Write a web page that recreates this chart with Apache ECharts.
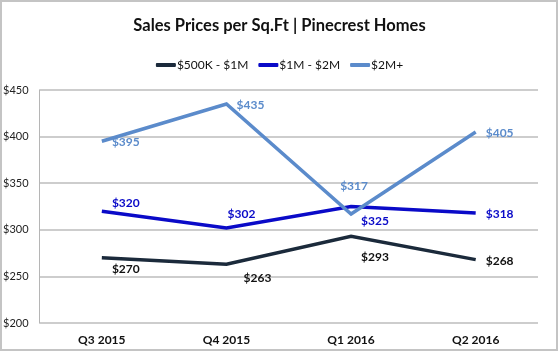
<!DOCTYPE html>
<html>
<head>
<meta charset="utf-8">
<script src="https://cdn.jsdelivr.net/npm/echarts@6/dist/echarts.min.js"></script>
<style>
html,body{margin:0;padding:0;background:#fff;}
#c{width:559px;height:352px;}
</style>
</head>
<body>
<div id="c"></div>
<script>
var categories = ['Q3 2015', 'Q4 2015', 'Q1 2016', 'Q2 2016'];
var seriesNames = ['$500K - $1M', '$1M - $2M', '$2M+'];
var low = [270, 263, 293, 268];
var mid = [320, 302, 325, 318];
var high = [395, 435, 317, 405];
var yTicks = [200, 250, 300, 350, 400, 450];

var colors = ['#1b2a3b', '#0a0ac8', '#5b8bcb'];
var labelColors = ['#111111', '#0a0ac8', '#5b8bcb'];

// per-point label placement (style only)
var labelPlacement = [
  [ {p:'right', d:10, o:[0,11]}, {p:'right', d:17, o:[0,14]}, {p:'right', d:10, o:[0,21]}, {p:'right', d:10, o:[0,2]} ],
  [ {p:'right', d:10, o:[0,-8]}, {p:'top', d:8, o:[15,0]}, {p:'right', d:10, o:[0,15]}, {p:'right', d:10, o:[0,1]} ],
  [ {p:'right', d:10, o:[0,1]}, {p:'right', d:10, o:[0,1]}, {p:'top', d:22, o:[3,0]}, {p:'right', d:10, o:[0,1]} ]
];

function build(values, idx) {
  return values.map(function (v, i) {
    var lp = labelPlacement[idx][i];
    return { value: v, label: { position: lp.p, distance: lp.d, offset: lp.o } };
  });
}

var fontFam = 'Lato, "Open Sans", sans-serif';
var chart = echarts.init(document.getElementById('c'), null, {renderer: 'canvas'});
var dataSets = [low, mid, high];

chart.setOption({
  animation: false,
  backgroundColor: '#fff',
  title: {
    text: 'Sales Prices per Sq.Ft | Pinecrest Homes',
    left: 'center',
    top: 12,
    textStyle: { fontFamily: fontFam, fontWeight: 'bold', fontSize: 16.5, color: '#111' }
  },
  legend: {
    data: seriesNames,
    top: 54,
    left: 'center',
    itemWidth: 20,
    itemHeight: 4,
    itemGap: 10,
    icon: 'roundRect',
    textStyle: { fontFamily: fontFam, fontSize: 12, color: '#111', padding: [0,0,0,-4] }
  },
  grid: { left: 38, right: 21, top: 90, bottom: 29, containLabel: false },
  xAxis: {
    type: 'category',
    data: categories,
    boundaryGap: true,
    axisLine: { show: false },
    axisTick: { show: false },
    axisLabel: { fontFamily: fontFam, fontWeight: 'bold', fontSize: 12, color: '#111', margin: 11 }
  },
  yAxis: {
    type: 'value',
    min: yTicks[0],
    max: yTicks[yTicks.length - 1],
    interval: 50,
    axisLine: { show: true, lineStyle: { color: '#b5b5b5', width: 1 } },
    axisTick: { show: false },
    splitLine: { lineStyle: { color: '#bdbdbd', width: 1.5 } },
    axisLabel: {
      fontFamily: fontFam, fontSize: 11, color: '#222', margin: 11,
      formatter: function (v) { return '$' + v; }
    }
  },
  graphic: [{
    type: 'rect',
    shape: { x: 1, y: 1, width: 556, height: 349 },
    style: { fill: 'none', stroke: '#c4c4c4', lineWidth: 2 },
    silent: true
  }],
  series: dataSets.map(function (d, i) {
    return {
      name: seriesNames[i],
      type: 'line',
      data: build(d, i),
      symbol: 'circle',
      symbolSize: 0.1,
      color: colors[i],
      lineStyle: { color: colors[i], width: 3.5, join: 'miter' },
      itemStyle: { color: colors[i] },
      label: {
        show: true,
        fontFamily: fontFam,
        fontWeight: 'bold',
        fontSize: 12,
        color: labelColors[i],
        formatter: function (p) { return '$' + p.value; }
      },
      z: 2 + i
    };
  })
});
</script>
</body>
</html>
